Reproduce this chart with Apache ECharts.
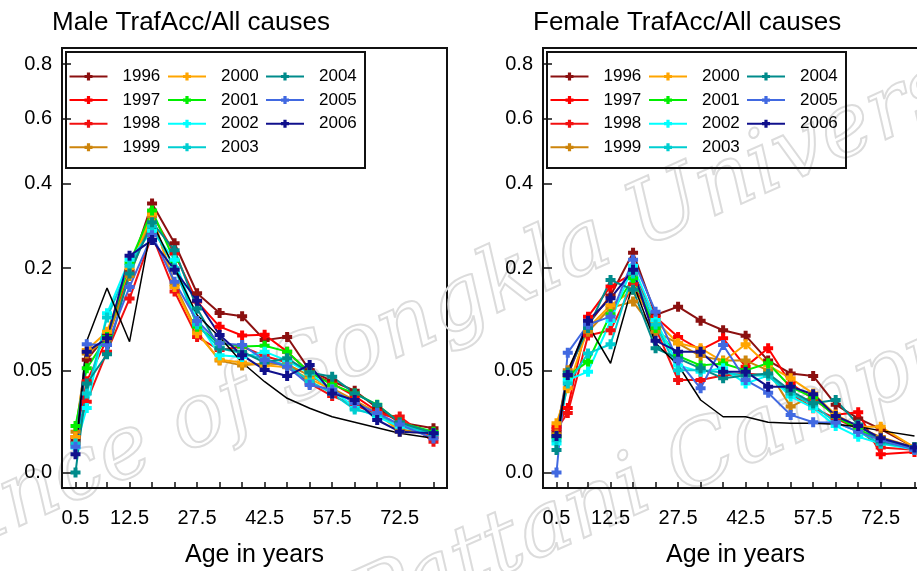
<!DOCTYPE html>
<html>
<head>
<meta charset="utf-8">
<script src="https://cdn.jsdelivr.net/npm/echarts@6/dist/echarts.min.js"></script>
<style>
  html, body { margin: 0; padding: 0; background: #fff; }
  #chart { width: 917px; height: 571px; }
</style>
</head>
<body>
<div id="chart"></div>
<script>
// age group midpoints (years)
var ages = [0.5, 3, 7.5, 12.5, 17.5, 22.5, 27.5, 32.5, 37.5, 42.5, 47.5, 52.5, 57.5, 62.5, 67.5, 72.5, 80];
var ageLabels = [0.5, 12.5, 27.5, 42.5, 57.5, 72.5];
var yTicks = [0, 0.05, 0.2, 0.4, 0.6, 0.8];
var yTickLabels = ['0.0', '0.05', '0.2', '0.4', '0.6', '0.8'];

var years = ['1996', '1997', '1998', '1999', '2000', '2001', '2002', '2003', '2004', '2005', '2006'];
var yearColors = ['#8B1010', '#FF0000', '#F21010', '#CD850C', '#FFA500', '#00EE00',
                  '#00FFFF', '#00CED1', '#008B8B', '#4169E1', '#10108C'];

// male ratio traffic accidents / all causes, one row per year
var male = [
  [0.005, 0.061, 0.090, 0.195, 0.347, 0.252, 0.154, 0.122, 0.117, 0.084, 0.088, 0.050, 0.040, 0.032, 0.020, 0.012, 0.0094],
  [0.006, 0.040, 0.085, 0.190, 0.320, 0.230, 0.140, 0.102, 0.090, 0.091, 0.070, 0.048, 0.038, 0.028, 0.018, 0.013, 0.006],
  [0.004, 0.024, 0.070, 0.145, 0.270, 0.157, 0.088, 0.072, 0.076, 0.065, 0.058, 0.038, 0.028, 0.022, 0.016, 0.015, 0.0045],
  [0.008, 0.068, 0.085, 0.185, 0.315, 0.170, 0.095, 0.060, 0.055, 0.057, 0.056, 0.045, 0.034, 0.025, 0.017, 0.009, 0.007],
  [0.006, 0.072, 0.095, 0.200, 0.320, 0.165, 0.093, 0.061, 0.058, 0.055, 0.053, 0.042, 0.033, 0.024, 0.017, 0.008, 0.0075],
  [0.0104, 0.052, 0.088, 0.210, 0.329, 0.215, 0.102, 0.080, 0.076, 0.077, 0.070, 0.048, 0.037, 0.030, 0.022, 0.012, 0.008],
  [0.003, 0.020, 0.1215, 0.217, 0.280, 0.217, 0.110, 0.066, 0.064, 0.070, 0.060, 0.047, 0.033, 0.020, 0.015, 0.010, 0.007],
  [0.004, 0.030, 0.115, 0.205, 0.290, 0.200, 0.105, 0.074, 0.068, 0.062, 0.055, 0.040, 0.030, 0.019, 0.016, 0.011, 0.007],
  [0.0, 0.038, 0.067, 0.190, 0.300, 0.237, 0.129, 0.074, 0.070, 0.058, 0.0625, 0.048, 0.044, 0.030, 0.0218, 0.012, 0.0075],
  [0.0032, 0.0788, 0.078, 0.165, 0.270, 0.1745, 0.110, 0.080, 0.078, 0.0607, 0.0537, 0.0367, 0.033, 0.023, 0.017, 0.011, 0.0055],
  [0.0016, 0.070, 0.0863, 0.225, 0.259, 0.197, 0.1415, 0.0906, 0.066, 0.0504, 0.0447, 0.0554, 0.030, 0.0252, 0.0132, 0.008, 0.0074]
];
var maleRef = [0.002, 0.083, 0.163, 0.082, 0.30, 0.20, 0.119, 0.088, 0.058, 0.0395, 0.0264, 0.0198, 0.0149, 0.0121, 0.0096, 0.0074, 0.0056];

var female = [
  [0.008, 0.045, 0.105, 0.150, 0.2316, 0.119, 0.1318, 0.1105, 0.097, 0.0897, 0.060, 0.047, 0.0447, 0.022, 0.014, 0.009, 0.003],
  [0.010, 0.020, 0.1164, 0.166, 0.190, 0.116, 0.088, 0.072, 0.0863, 0.0537, 0.074, 0.038, 0.026, 0.016, 0.0174, 0.0016, 0.002],
  [0.009, 0.017, 0.090, 0.097, 0.170, 0.100, 0.041, 0.041, 0.045, 0.047, 0.045, 0.030, 0.0198, 0.014, 0.009, 0.003, 0.0025],
  [0.007, 0.050, 0.095, 0.130, 0.140, 0.095, 0.080, 0.065, 0.060, 0.060, 0.050, 0.0208, 0.028, 0.015, 0.010, 0.006, 0.003],
  [0.0116, 0.034, 0.100, 0.134, 0.160, 0.110, 0.080, 0.074, 0.059, 0.0788, 0.055, 0.0425, 0.030, 0.016, 0.010, 0.010, 0.003],
  [0.006, 0.045, 0.0589, 0.120, 0.181, 0.100, 0.065, 0.055, 0.057, 0.050, 0.0572, 0.035, 0.027, 0.015, 0.009, 0.005, 0.003],
  [0.004, 0.041, 0.0487, 0.110, 0.205, 0.1115, 0.055, 0.0487, 0.052, 0.038, 0.045, 0.0276, 0.020, 0.0104, 0.0061, 0.004, 0.0025],
  [0.005, 0.038, 0.068, 0.0788, 0.190, 0.105, 0.050, 0.050, 0.048, 0.045, 0.045, 0.030, 0.022, 0.012, 0.008, 0.004, 0.003],
  [0.0024, 0.048, 0.100, 0.1777, 0.160, 0.074, 0.0625, 0.052, 0.0425, 0.045, 0.047, 0.032, 0.023, 0.0252, 0.011, 0.0046, 0.003],
  [0.0, 0.0688, 0.105, 0.1164, 0.217, 0.124, 0.060, 0.034, 0.078, 0.041, 0.0305, 0.0159, 0.0121, 0.012, 0.008, 0.005, 0.0025],
  [0.0064, 0.0456, 0.1105, 0.1455, 0.197, 0.0833, 0.070, 0.070, 0.0487, 0.0487, 0.0353, 0.0353, 0.0293, 0.0153, 0.0104, 0.0056, 0.003]
];
var femaleRef = [0.003, 0.050, 0.104, 0.0572, 0.1716, 0.080, 0.0554, 0.0252, 0.0149, 0.0149, 0.0121, 0.0116, 0.0116, 0.0111, 0.0100, 0.0084, 0.0064];

var plusSymbol = 'path://M3,0H7V3H10V7H7V10H3V7H0V3H3Z';
var ink = '#111';
var font = '"Liberation Sans", Arial, sans-serif';

// square-root scale on y
function toPts(vals) {
  return vals.map(function (v, i) { return [ages[i], Math.sqrt(v)]; });
}

var panels = [
  { title: 'Male TrafAcc/All causes', rows: male, ref: maleRef, left: 62 },
  { title: 'Female TrafAcc/All causes', rows: female, ref: femaleRef, left: 543 }
];

var grids = [], xAxes = [], yAxes = [], titles = [], legends = [], series = [], graphics = [];

// faint watermark
graphics.push({
  type: 'text', x: 470, y: 300, rotation: 0.42, z: 0, silent: true,
  style: { text: 'Prince of Songkla University', align: 'center', verticalAlign: 'middle',
           font: 'italic 88px "DejaVu Serif"', fill: 'rgba(255,255,255,0)', stroke: '#dcdcdc', lineWidth: 2 }
});
graphics.push({
  type: 'text', x: 680, y: 470, rotation: 0.42, z: 0, silent: true,
  style: { text: 'Pattani Campus', align: 'center', verticalAlign: 'middle',
           font: 'italic 88px "DejaVu Serif"', fill: 'rgba(255,255,255,0)', stroke: '#dcdcdc', lineWidth: 2 }
});

panels.forEach(function (p, k) {
  grids.push({ left: p.left, top: 48, width: 385, height: 440, show: true,
               outerBoundsMode: 'none', containLabel: false,
               borderColor: ink, borderWidth: 2, backgroundColor: 'transparent' });
  titles.push({ text: p.title, left: p.left - 10, top: 10, padding: 0,
                textStyle: { fontFamily: font, fontSize: 26, fontWeight: 'normal', color: '#000' } });
  xAxes.push({
    type: 'value', gridIndex: k, min: -2.5, max: 83,
    name: 'Age in years', nameLocation: 'middle', nameGap: 55,
    nameTextStyle: { fontFamily: font, fontSize: 25, color: '#000' },
    axisLine: { show: true, onZero: false, lineStyle: { color: ink, width: 2 } },
    axisTick: { show: true, inside: true, length: 6, customValues: ages, lineStyle: { color: ink, width: 1.5 } },
    axisLabel: { customValues: ageLabels, margin: 20, fontFamily: font, fontSize: 20, color: '#000',
                 formatter: function (v) { return String(v); } },
    splitLine: { show: false }
  });
  yAxes.push({
    type: 'value', gridIndex: k, min: -0.034, max: 0.9295,
    axisLine: { show: true, onZero: false, lineStyle: { color: ink, width: 2 } },
    axisTick: { show: true, inside: true, length: 9, customValues: yTicks.map(Math.sqrt), lineStyle: { color: ink, width: 1.5 } },
    axisLabel: { customValues: yTicks.map(Math.sqrt), margin: 10, fontFamily: font, fontSize: 20, color: '#000',
                 formatter: function (v) {
                   for (var i = 0; i < yTicks.length; i++) {
                     if (Math.abs(Math.sqrt(yTicks[i]) - v) < 1e-6) return yTickLabels[i];
                   }
                   return '';
                 } },
    splitLine: { show: false }
  });

  p.rows.forEach(function (row, i) {
    series.push({
      name: years[i], type: 'line', xAxisIndex: k, yAxisIndex: k,
      data: toPts(row), symbol: plusSymbol, symbolSize: 10,
      itemStyle: { color: yearColors[i] },
      lineStyle: { color: yearColors[i], width: 2 },
      z: 3
    });
  });
  series.push({
    name: 'ref' + k, type: 'line', xAxisIndex: k, yAxisIndex: k,
    data: toPts(p.ref), symbol: 'none',
    lineStyle: { color: '#000', width: 1.5 }, z: 3
  });

  // legend box and three columns
  graphics.push({
    type: 'rect', shape: { x: p.left + 4, y: 52, width: 299, height: 116 },
    style: { fill: 'transparent', stroke: ink, lineWidth: 2 }, z: 5, silent: true
  });
  var cols = [[0, 4], [4, 8], [8, 11]];
  var colX = [6.5, 105, 203];
  cols.forEach(function (c, j) {
    legends.push({
      data: years.slice(c[0], c[1]), orient: 'vertical',
      left: p.left + colX[j], top: 68, padding: 0,
      itemWidth: 38, itemHeight: 10, itemGap: 6.6,
      selectedMode: false,
      textStyle: { fontFamily: font, fontSize: 17, color: '#000', padding: [0, 0, 0, 10] }
    });
  });
});

var myChart = echarts.init(document.getElementById('chart'));
myChart.setOption({
  animation: false,
  backgroundColor: '#fff',
  title: titles,
  grid: grids,
  xAxis: xAxes,
  yAxis: yAxes,
  legend: legends,
  graphic: graphics,
  series: series
});
</script>
</body>
</html>
